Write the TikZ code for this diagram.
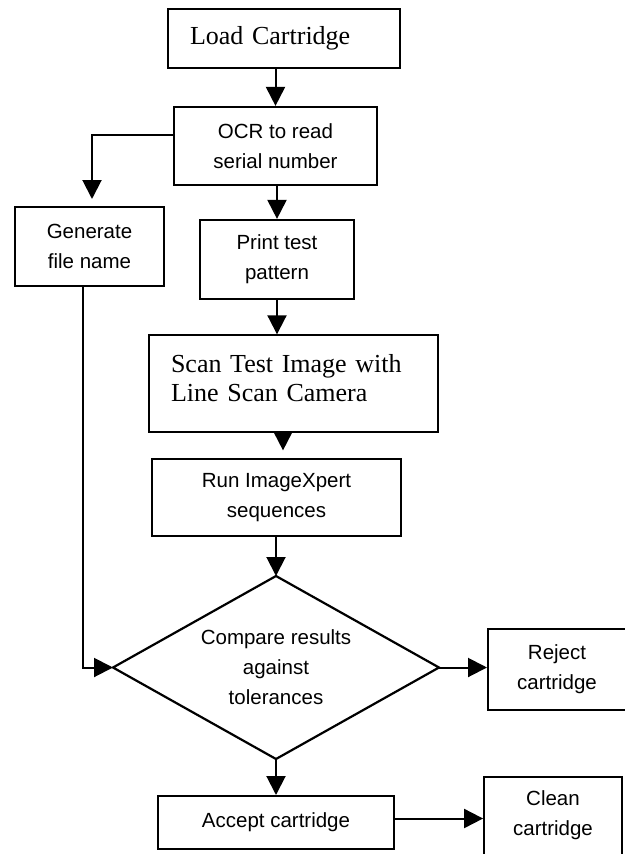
\documentclass[tikz,border=0pt]{standalone}
\usepackage{fontspec}
\setmainfont{Liberation Serif}
\newfontfamily\hvfont{Liberation Sans}
\usetikzlibrary{arrows.meta,shapes.geometric}
\newcommand{\lowpad}[1]{\rule[-#1]{0pt}{#1}}
\begin{document}
\begin{tikzpicture}[x=1pt,y=-1pt,
  sbox/.style={draw,line width=2.2pt,align=center,inner sep=0pt,
    font=\hvfont\fontsize{20.5}{30}\selectfont},
  tbox/.style={draw,line width=1.4pt,align=left,inner xsep=22pt,inner ysep=0pt,
    font=\fontsize{26}{29}\selectfont},
  arr/.style={line width=2pt,-{Triangle[width=19pt,length=19pt]}},
  dia/.style={diamond,draw,line width=2.2pt,inner sep=0pt,outer sep=0pt,aspect=1.78,
    minimum width=326pt,minimum height=183pt,align=center,
    font=\hvfont\fontsize{20.5}{30}\selectfont}
]
\useasboundingbox (0,0) rectangle (624,854);

\node[tbox,text width=188pt,minimum height=59pt] (load) at (284,38.5) {Load Cartridge};
\node[sbox,minimum width=203pt,minimum height=78pt] (ocr) at (275.5,146) {OCR to read\\serial number};
\node[sbox,line width=2pt,minimum width=149pt,minimum height=79pt] (gen) at (89.5,246.5) {Generate\\file name};
\node[sbox,minimum width=154pt,minimum height=79pt] (print) at (277,259.5) {Print test\\pattern};
\node[tbox,text width=245pt,minimum height=97pt] (scan) at (293.5,383.5) {Scan Test Image with\\Line Scan Camera\lowpad{12pt}};
\node[sbox,minimum width=249pt,minimum height=77pt] (run) at (276.5,497.5) {Run ImageXpert\\sequences};
\node[dia] (dec) at (276,667.5) {Compare results\\against\\tolerances};
\node[sbox,line width=2pt,minimum width=138pt,minimum height=81pt] (reject) at (557,669) {Reject\\cartridge};
\node[sbox,line width=2pt,minimum width=236pt,minimum height=53pt] (accept) at (276,822.5) {Accept cartridge};
\node[sbox,line width=1.8pt,minimum width=138pt,minimum height=84pt] (clean) at (553,819) {Clean\\cartridge\lowpad{12pt}};

\coordinate (sx) at (283,0);
\coordinate (gx) at (82.5,0);

\draw[arr] (ocr.north |- load.south) -- (ocr.north);
\draw[arr] ([yshift=11pt]ocr.west) -| ([xshift=2.5pt,yshift=7pt]gen.north);
\draw[arr] (print.north |- ocr.south) -- (print.north);
\draw[arr] (print.south) -- (print.south |- scan.north);
\draw[arr] (scan.south -| sx) -- ([yshift=7.5pt]run.north -| sx);
\draw[arr] (dec.north |- run.south) -- (dec.north);
\draw[arr] (gen.south -| gx) |- (dec.west);
\draw[arr] (dec.east) -- (dec.east -| reject.west);
\draw[arr] (dec.south) -- (accept.north);
\draw[arr] ([yshift=4pt]accept.east) -- ([yshift=4pt]accept.east -| clean.west);
\end{tikzpicture}
\end{document}
